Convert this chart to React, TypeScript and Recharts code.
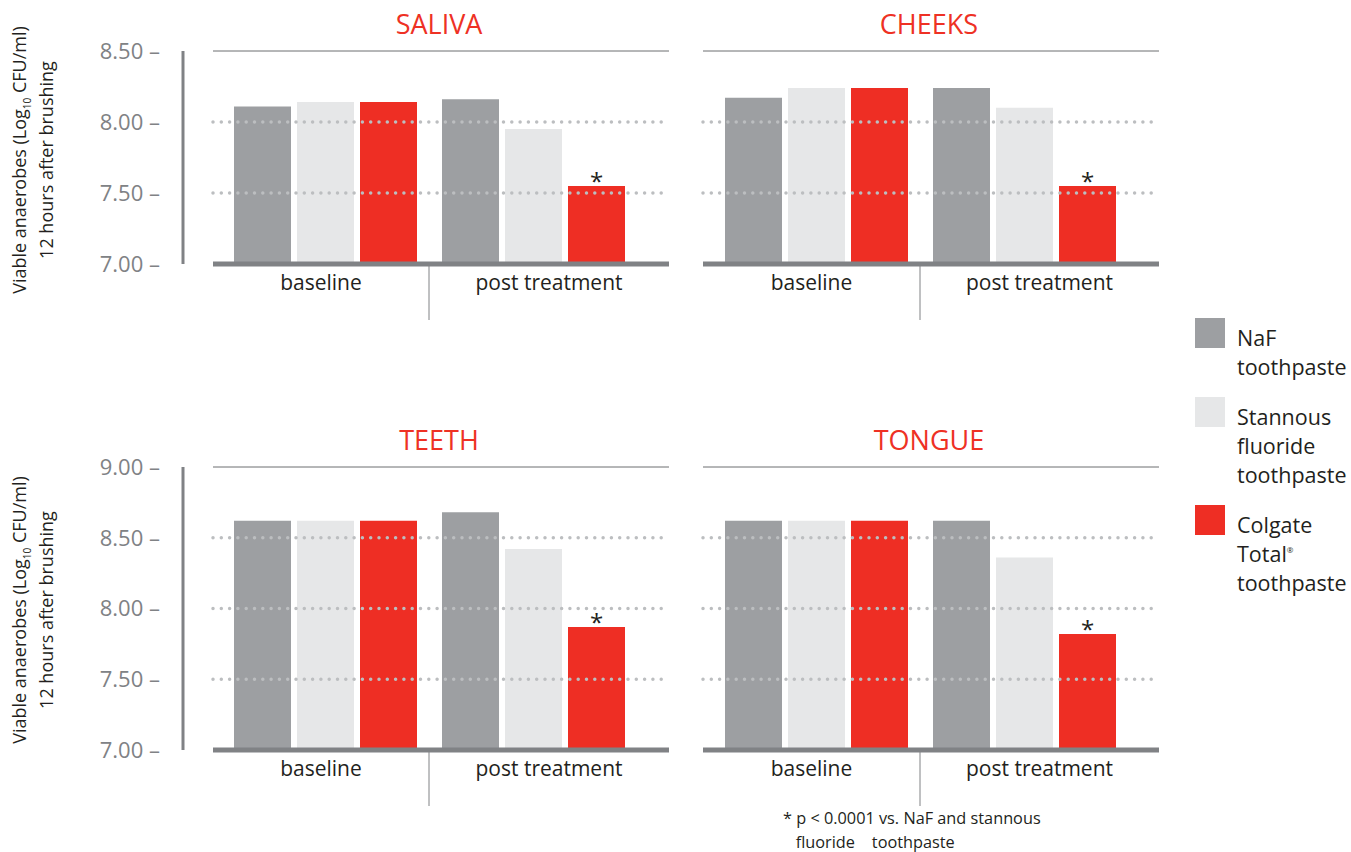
import React from 'react';
import { BarChart, Bar, XAxis, YAxis, ReferenceLine, LabelList } from 'recharts';

const categories = ['baseline', 'post treatment'];
const seriesNames = ['NaF toothpaste', 'Stannous fluoride toothpaste', 'Colgate Total toothpaste'];
const seriesColors = ['#9d9fa2', '#e6e7e8', '#ee2e24'];

const salivaNaF = [8.11, 8.16];
const salivaStannous = [8.14, 7.95];
const salivaColgate = [8.14, 7.55];

const cheeksNaF = [8.17, 8.24];
const cheeksStannous = [8.24, 8.1];
const cheeksColgate = [8.24, 7.55];

const teethNaF = [8.62, 8.68];
const teethStannous = [8.62, 8.42];
const teethColgate = [8.62, 7.87];

const tongueNaF = [8.62, 8.62];
const tongueStannous = [8.62, 8.36];
const tongueColgate = [8.62, 7.82];

const significance = ['', '*'];

const topTicks = [7, 7.5, 8, 8.5];
const bottomTicks = [7, 7.5, 8, 8.5, 9];

const FONT = '"Open Sans", "Noto Sans", sans-serif';
const DARK = '#231f20';
const AXIS_GREY = '#808285';
const PLOT_W = 456;

function buildRows(naf: number[], stan: number[], col: number[]) {
  return categories.map((name, i) => ({
    name,
    naf: naf[i],
    stannous: stan[i],
    colgate: col[i],
    sig: significance[i],
  }));
}

function makeTick(pl: number, pr: number, margin: number) {
  const band = (PLOT_W - pl - pr) / 2;
  return (props: any) => {
    const { x, y, payload, index } = props;
    const shift = index === 0 ? -pl / 2 : pr / 2;
    const axisY = y - margin;
    return (
      <g>
        {index === 1 ? (
          <line x1={x - band / 2} x2={x - band / 2} y1={axisY + 2} y2={axisY + 56} stroke={AXIS_GREY} strokeWidth={1} />
        ) : null}
        <text x={x + shift} y={y} dy="0.71em" textAnchor="middle" fontSize={21} fill={DARK} fontFamily={FONT}>
          {payload.value}
        </text>
      </g>
    );
  };
}

type PanelProps = {
  title: string;
  naf: number[];
  stan: number[];
  col: number[];
  ticks: number[];
  withAxis: boolean;
  left: number;
  top: number;
  plotH: number;
  pl: number;
  pr: number;
};

function Panel({ title, naf, stan, col, ticks, withAxis, left, top, plotH, pl, pr }: PanelProps) {
  const data = buildRows(naf, stan, col);
  const min = ticks[0];
  const max = ticks[ticks.length - 1];
  const gridValues = ticks.slice(1, ticks.length - 1);
  const chartW = withAxis ? 680 : 480;
  const marginLeft = withAxis ? 0 : 13;
  const xAxisH = 66;
  const chartH = 51 + plotH + xAxisH;
  const tickMargin = 11;
  const plotLeft = withAxis ? 213 : marginLeft;
  return (
    <div style={{ position: 'absolute', left, top, width: chartW, height: chartH }}>
      <div
        style={{
          position: 'absolute',
          left: plotLeft - 2,
          width: PLOT_W,
          top: 10,
          textAlign: 'center',
          color: '#ee3124',
          fontFamily: FONT,
          fontSize: 27,
          lineHeight: '28px',
        }}
      >
        {title}
      </div>
      <BarChart
        width={chartW}
        height={chartH}
        data={data}
        margin={{ top: 51, right: 11, left: marginLeft, bottom: 0 }}
        barSize={57}
        barGap={6}
      >
        {withAxis ? (
          <YAxis yAxisId="gap" width={30} domain={[min, max]} ticks={ticks} tick={false} axisLine={false} tickLine={false} />
        ) : null}
        {withAxis ? (
          <YAxis
            yAxisId="main"
            width={183}
            domain={[min, max]}
            ticks={ticks}
            interval={0}
            axisLine={{ stroke: AXIS_GREY, strokeWidth: 3 }}
            tickLine={false}
            tickSize={6}
            tickMargin={17}
            tickFormatter={(v: number) => v.toFixed(2) + ' \u2013'}
            tick={{ fill: AXIS_GREY, fontSize: 22, fontFamily: FONT }}
          />
        ) : (
          <YAxis yAxisId="main" hide domain={[min, max]} ticks={ticks} />
        )}
        <XAxis
          dataKey="name"
          height={xAxisH}
          padding={{ left: pl, right: pr }}
          axisLine={{ stroke: AXIS_GREY, strokeWidth: 5 }}
          tickLine={false}
          tickSize={0}
          tickMargin={tickMargin}
          interval={0}
          tick={makeTick(pl, pr, tickMargin)}
        />
        {gridValues.map((v) => (
          <ReferenceLine
            key={v}
            yAxisId="main"
            y={v}
            stroke="#bcbec0"
            strokeWidth={3.5}
            strokeDasharray="0 8.3"
            strokeLinecap="round"
          />
        ))}
        <ReferenceLine yAxisId="main" y={max} stroke="#6d6e71" strokeWidth={1} />
        <Bar yAxisId="main" dataKey="naf" name={seriesNames[0]} fill={seriesColors[0]} isAnimationActive={false} />
        <Bar yAxisId="main" dataKey="stannous" name={seriesNames[1]} fill={seriesColors[1]} isAnimationActive={false} />
        <Bar yAxisId="main" dataKey="colgate" name={seriesNames[2]} fill={seriesColors[2]} isAnimationActive={false}>
          <LabelList dataKey="sig" position="top" offset={-4} fill={DARK} fontSize={24} fontFamily={FONT} />
        </Bar>
      </BarChart>
    </div>
  );
}

function YLabel({ cy }: { cy: number }) {
  return (
    <div
      style={{
        position: 'absolute',
        left: 33 - 170,
        top: cy - 27,
        width: 340,
        height: 54,
        transform: 'rotate(-90deg)',
        textAlign: 'center',
        fontFamily: FONT,
        fontSize: 18,
        lineHeight: '27px',
        color: DARK,
        whiteSpace: 'nowrap',
      }}
    >
      <div>
        Viable anaerobes (Log<sub style={{ fontSize: 10, lineHeight: 0 }}>10</sub> CFU/ml)
      </div>
      <div>12 hours after brushing</div>
    </div>
  );
}

const legendLines = [
  ['NaF', 'toothpaste'],
  ['Stannous', 'fluoride', 'toothpaste'],
  ['Colgate', 'Total', 'toothpaste'],
];
const legendSquareTops = [318, 397, 505];

export default function App() {
  return (
    <div style={{ position: 'absolute', left: 0, top: 0, width: 1351, height: 852, background: '#fff', overflow: 'hidden' }}>
      <YLabel cy={160} />
      <YLabel cy={610} />
      <Panel title="SALIVA" naf={salivaNaF} stan={salivaStannous} col={salivaColgate} ticks={topTicks} withAxis left={0} top={0} plotH={213} pl={8} pr={32} />
      <Panel title="CHEEKS" naf={cheeksNaF} stan={cheeksStannous} col={cheeksColgate} ticks={topTicks} withAxis={false} left={690} top={0} plotH={213} pl={9} pr={31} />
      <Panel title="TEETH" naf={teethNaF} stan={teethStannous} col={teethColgate} ticks={bottomTicks} withAxis left={0} top={416} plotH={283} pl={8} pr={32} />
      <Panel title="TONGUE" naf={tongueNaF} stan={tongueStannous} col={tongueColgate} ticks={bottomTicks} withAxis={false} left={690} top={416} plotH={283} pl={9} pr={31} />
      {legendLines.map((lines, i) => (
        <div key={i}>
          <div style={{ position: 'absolute', left: 1195, top: legendSquareTops[i], width: 30, height: 30, background: seriesColors[i] }} />
          <div
            style={{
              position: 'absolute',
              left: 1237,
              top: legendSquareTops[i] + 5,
              fontFamily: FONT,
              fontSize: 21.5,
              lineHeight: '29px',
              color: DARK,
              whiteSpace: 'nowrap',
            }}
          >
            {lines.map((t, j) => (
              <div key={j}>
                {t}
                {t === 'Total' ? <sup style={{ fontSize: 8, lineHeight: 0, verticalAlign: '9px' }}>{'\u00ae'}</sup> : null}
              </div>
            ))}
          </div>
        </div>
      ))}
      <div
        style={{
          position: 'absolute',
          left: 783,
          top: 806,
          fontFamily: FONT,
          fontSize: 16.3,
          lineHeight: '24px',
          color: DARK,
          whiteSpace: 'pre',
        }}
      >
        <div>* p &lt; 0.0001 vs. NaF and stannous</div>
        <div>{'   fluoride    toothpaste'}</div>
      </div>
    </div>
  );
}
